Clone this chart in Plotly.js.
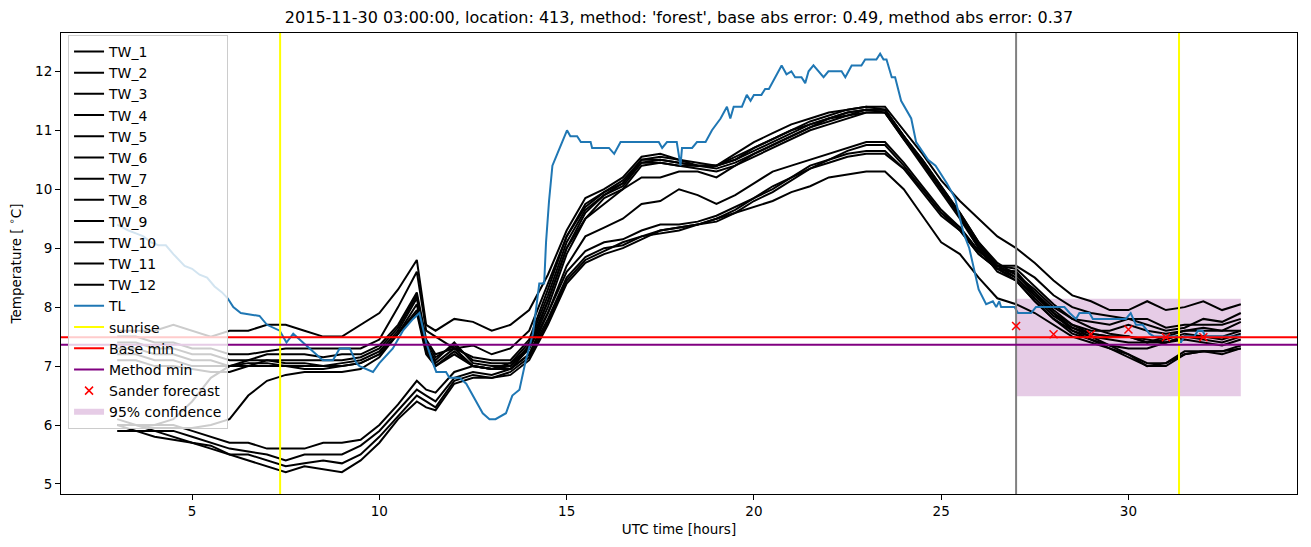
<!DOCTYPE html>
<html>
<head>
<meta charset="utf-8">
<script src="https://cdn.plot.ly/plotly-3.0.1.min.js"></script>
<style>html,body{margin:0;padding:0;background:#fff;}#chart{width:1311px;height:547px;}</style>
</head>
<body>
<div id="chart"></div>
<script>
// ---------- data ----------
const hours = [3.0,3.5,4.0,4.5,5.0,5.5,6.0,6.5,7.0,7.5,8.0,8.5,9.0,9.5,10.0,10.5,11.0,11.25,11.5,12.0,12.5,
  13.0,13.5,14.0,14.5,15.0,15.5,16.0,16.5,17.0,17.5,18.0,18.5,19.0,19.5,20.0,20.5,21.0,21.5,22.0,22.5,
  23.0,23.5,24.0,24.5,25.0,25.5,26.0,26.5,27.0,27.5,28.0,28.5,29.0,29.5,30.0,30.5,31.0,31.5,32.0,32.5,33.0];

const TW_1 = [7.6,7.6,7.6,7.7,7.6,7.5,7.6,7.6,7.7,7.7, 7.6,7.5,7.5,7.7,7.9,8.3,8.8,7.7,7.6,7.8,7.75,
  7.6,7.7,7.95,8.55,9.3,9.85,10.0,10.2,10.55,10.6, 10.5,10.45,10.4,10.6,10.8,10.95,11.1,11.2,11.3,11.35,
  11.4,11.4,11.0,10.6,10.15,9.8,9.5,9.2,9.0,8.75, 8.45,8.2,8.1,7.95,7.95,8.1,7.95,8.0,8.1,7.95,8.05];
const TW_2 = [7.5,7.5,7.4,7.4,7.3,7.3,7.2,7.2,7.25,7.3, 7.3,7.3,7.3,7.3,7.45,8.0,8.6,7.6,7.5,7.3,7.35,
  7.2,7.3,7.6,8.4,9.2,9.7,9.95,10.1,10.5,10.55, 10.5,10.4,10.4,10.55,10.7,10.85,11.0,11.15,11.25,11.35,
  11.4,11.35,10.9,10.45,10.0,9.55,9.05,8.7,8.55,8.3, 8.0,7.8,7.75,7.7,7.8,7.7,7.6,7.65,7.8,7.75,7.9];
const TW_3 = [7.4,7.4,7.3,7.3,7.2,7.2,7.1,7.1,7.2,7.2, 7.2,7.15,7.2,7.2,7.35,7.7,8.25,7.45,7.2,7.3,7.15,
  7.1,7.1,7.45,8.3,9.2,9.75,9.95,10.15,10.5,10.5, 10.45,10.4,10.4,10.5,10.7,10.85,11.0,11.1,11.2,11.3,
  11.35,11.35,10.9,10.5,10.05,9.6,9.1,8.7,8.5,8.2, 7.9,7.7,7.6,7.6,7.7,7.6,7.55,7.6,7.65,7.6,7.75];
const TW_4 = [7.3,7.3,7.2,7.2,7.1,7.1,7.0,7.1,7.1,7.1, 7.1,7.1,7.1,7.15,7.3,7.65,8.2,7.4,7.15,7.35,7.1,
  7.05,7.05,7.4,8.2,9.1,9.65,9.9,10.1,10.45,10.5, 10.45,10.4,10.4,10.5,10.65,10.8,10.95,11.1,11.2,11.25,
  11.35,11.3,10.9,10.45,10.0,9.55,9.05,8.65,8.5,8.15, 7.85,7.65,7.55,7.5,7.5,7.4,7.5,7.6,7.6,7.6,7.6];
const TW_5 = [7.2,7.2,7.1,7.1,7.0,7.0,7.0,7.0,7.1,7.05, 7.05,7.0,7.05,7.1,7.25,7.6,8.15,7.35,7.1,7.4,7.05,
  7.0,7.0,7.35,8.1,9.0,9.6,9.9,10.05,10.45,10.45, 10.4,10.4,10.35,10.45,10.6,10.75,10.9,11.05,11.15,11.25,
  11.3,11.3,10.85,10.45,10.0,9.55,9.0,8.65,8.45,8.1, 7.8,7.6,7.5,7.45,7.4,7.4,7.45,7.55,7.5,7.5,7.6];
const TW_6 = [7.1,7.1,7.0,7.0,6.95,6.9,6.9,7.0,7.0,7.0, 7.0,7.0,7.0,7.05,7.2,7.55,8.05,7.3,7.05,7.3,7.0,
  6.95,6.95,7.3,8.0,8.9,9.5,9.85,10.0,10.4,10.45, 10.4,10.35,10.3,10.4,10.55,10.7,10.85,11.0,11.1,11.2,
  11.3,11.3,10.85,10.4,9.95,9.5,9.0,8.6,8.45,8.1, 7.8,7.55,7.45,7.35,7.3,7.3,7.4,7.5,7.5,7.45,7.55];
const TW_7 = [6.0,6.0,6.0,6.1,6.4,6.8,7.0,7.05,7.05,7.0, 6.95,6.95,7.0,7.05,7.2,7.55,7.95,7.25,7.0,7.25,7.0,
  6.95,7.0,7.3,8.1,9.0,9.5,9.75,10.0,10.2,10.2, 10.3,10.3,10.2,10.4,10.6,10.75,10.9,11.05,11.2,11.3,
  11.35,11.35,10.9,10.5,10.05,9.6,9.1,8.75,8.55,8.25, 7.95,7.7,7.55,7.5,7.5,7.45,7.4,7.5,7.45,7.4,7.5];
const TW_8 = [6.0,6.0,5.95,5.95,5.95,6.0,6.1,6.5,6.75,6.85, 6.9,6.9,6.9,6.95,7.15,7.55,7.9,7.2,7.0,7.2,7.0,
  6.95,6.95,7.2,7.9,8.7,9.2,9.35,9.5,9.75,9.8, 10.0,9.9,9.75,9.9,10.1,10.3,10.4,10.5,10.6,10.7,
  10.8,10.8,10.45,10.05,9.65,9.35,8.95,8.7,8.7,8.5, 8.2,8.0,7.9,7.85,7.8,7.8,7.65,7.7,7.7,7.7,7.8];
const TW_9 = [6.1,6.0,6.0,6.0,5.9,5.8,5.7,5.7,5.6,5.6, 5.6,5.7,5.7,5.75,6.0,6.35,6.75,6.6,6.55,6.9,7.0,
  6.95,7.05,7.3,7.9,8.6,8.95,9.1,9.15,9.3,9.4, 9.4,9.45,9.55,9.7,9.85,10.05,10.2,10.35,10.5,10.65,
  10.75,10.75,10.4,10.0,9.6,9.35,8.95,8.7,8.65,8.35, 8.05,7.8,7.65,7.55,7.5,7.4,7.4,7.45,7.4,7.35,7.45];
const TW_10 = [6.0,6.0,5.9,5.9,5.8,5.7,5.6,5.55,5.5,5.4, 5.5,5.5,5.5,5.65,5.9,6.25,6.6,6.5,6.4,6.8,6.9,
  6.85,6.95,7.2,7.8,8.5,8.85,9.0,9.05,9.2,9.25, 9.3,9.4,9.45,9.6,9.8,9.95,10.15,10.35,10.45,10.55,
  10.6,10.6,10.35,9.95,9.55,9.3,8.9,8.65,8.6,8.25, 7.9,7.65,7.5,7.35,7.2,7.05,7.05,7.25,7.25,7.25,7.35];
const TW_11 = [6.0,5.9,5.9,5.8,5.7,5.65,5.5,5.5,5.4,5.3, 5.35,5.4,5.35,5.5,5.8,6.15,6.5,6.4,6.3,6.75,6.85,
  6.8,6.9,7.15,7.75,8.45,8.8,8.95,9.1,9.2,9.3, 9.35,9.4,9.5,9.65,9.85,10.0,10.2,10.4,10.5,10.6,
  10.65,10.65,10.35,10.0,9.6,9.3,8.9,8.65,8.6,8.2, 7.9,7.6,7.45,7.3,7.15,7.0,7.0,7.2,7.25,7.2,7.3];
const TW_12 = [5.9,5.9,5.8,5.75,5.7,5.6,5.5,5.4,5.3,5.2, 5.3,5.25,5.2,5.4,5.7,6.1,6.4,6.3,6.25,6.7,6.8,
  6.8,6.85,7.1,7.7,8.4,8.75,8.9,9.0,9.15,9.3, 9.35,9.4,9.5,9.6,9.7,9.8,9.95,10.05,10.2,10.25,
  10.3,10.3,10.0,9.55,9.1,8.9,8.5,8.15,8.05,7.9, 7.7,7.5,7.4,7.3,7.2,7.0,7.05,7.2,7.25,7.25,7.3];

const tlHours = [3.0,3.3,3.5,3.7,3.9,4.1,4.3,4.5,4.8,5.0,5.2,5.4,5.6,5.8,5.95,6.1,6.3,6.8,7.0,7.34,
  7.52,7.7,7.96,8.14,8.49,8.76,8.94,9.21,9.39,9.47,9.83,10.0,10.36,10.63,10.9,11.07,11.25,11.43,11.52,11.78,
  11.87,12.14,12.32,12.67,12.76,12.94,13.1,13.38,13.55,13.74,13.91,14.1,14.27,14.4,14.45,14.53,14.62,14.75,14.88,15.01,
  15.1,15.28,15.38,15.64,15.68,16.13,16.27,16.44,17.46,17.55,17.68,17.94,18.04,18.08,18.35,18.48,18.71,18.88,19.11,19.28,
  19.37,19.46,19.68,19.81,19.91,20.0,20.2,20.3,20.4,20.57,20.74,20.87,21.0,21.1,21.27,21.37,21.46,21.59,21.72,21.86,
  21.99,22.34,22.44,22.61,22.87,22.97,23.27,23.37,23.46,23.54,23.68,23.77,23.93,24.2,24.33,24.65,24.85,25.15,25.37,25.5,
  25.6,25.75,25.9,26.0,26.2,26.38,26.47,26.55,26.6,26.96,27.05,27.4,27.53,28.29,28.43,28.6,28.69,28.96,29.05,29.93,
  30.06,30.2,30.38,30.56,30.69,31.31,31.4,31.49,31.76,31.85,31.98,32.06,33.0];
const TL = [9.4,9.3,9.25,9.2,9.1,9.05,9.05,8.9,8.7,8.65,8.55,8.5,8.35,8.25,8.15,8.0,7.9,7.85,7.7,7.6,
  7.4,7.55,7.4,7.3,7.1,7.1,7.3,7.3,7.05,7.0,6.9,7.05,7.3,7.6,7.8,7.9,7.4,7.05,6.9,6.9,
  6.8,6.8,6.7,6.3,6.2,6.1,6.1,6.2,6.5,6.6,7.1,7.55,8.4,8.4,9.1,9.8,10.4,10.6,10.8,11.0,
  10.9,10.9,10.8,10.8,10.7,10.7,10.6,10.8,10.8,10.7,10.8,10.8,10.4,10.7,10.7,10.8,10.8,11.0,11.2,11.4,
  11.2,11.4,11.4,11.6,11.5,11.6,11.6,11.7,11.7,11.9,12.1,11.95,12.0,11.9,11.9,11.8,12.0,12.1,12.0,11.9,
  12.0,12.0,11.9,12.1,12.1,12.2,12.2,12.3,12.2,12.2,11.9,11.9,11.5,11.2,10.8,10.5,10.4,10.1,9.85,9.5,
  9.25,9.0,8.6,8.3,8.05,8.1,8.0,8.1,8.0,8.0,7.9,7.9,8.0,8.0,7.9,7.8,7.9,7.9,7.8,7.8,
  7.9,7.7,7.7,7.55,7.5,7.5,7.4,7.5,7.5,7.6,7.6,7.5,7.5];

const sunriseHours = [7.35, 31.35];
const forecastStart = 27;
const baseMin = 7.49;
const methodMin = 7.36;
const sanderHours = [27, 28, 29, 30, 31, 32];
const sanderTemps = [7.68, 7.54, 7.54, 7.62, 7.49, 7.49];
const confStart = 27, confEnd = 33, confLow = 6.49, confHigh = 8.14;

const titleText = "2015-11-30 03:00:00, location: 413, method: 'forest', base abs error: 0.49, method abs error: 0.37";

// ---------- figure ----------
const xRange = [1.5, 34.5];
const yRange = [4.83, 12.65];
const twSeries = [TW_1,TW_2,TW_3,TW_4,TW_5,TW_6,TW_7,TW_8,TW_9,TW_10,TW_11,TW_12];

const traces = [];
traces.push({
  x: [confStart, confEnd, confEnd, confStart, confStart],
  y: [confLow, confLow, confHigh, confHigh, confLow],
  mode: 'none', fill: 'toself', fillcolor: 'rgba(128,0,128,0.2)',
  name: '95% confidence', legendrank: 1018, hoverinfo: 'skip'
});
twSeries.forEach((s, i) => {
  traces.push({x: hours, y: s, mode: 'lines', name: 'TW_' + (i + 1),
    line: {color: 'black', width: 2}, legendrank: 1001 + i});
});
traces.push({x: tlHours, y: TL, mode: 'lines', name: 'TL',
  line: {color: '#1f77b4', width: 2}, legendrank: 1013});
traces.push({x: [forecastStart, forecastStart], y: yRange, mode: 'lines', showlegend: false,
  line: {color: 'grey', width: 2}});
traces.push({x: [sunriseHours[0], sunriseHours[0], null, sunriseHours[1], sunriseHours[1]],
  y: [yRange[0], yRange[1], null, yRange[0], yRange[1]], mode: 'lines', name: 'sunrise',
  line: {color: 'yellow', width: 2}, legendrank: 1014});
traces.push({x: xRange, y: [baseMin, baseMin], mode: 'lines', name: 'Base min',
  line: {color: 'red', width: 2}, legendrank: 1015});
traces.push({x: xRange, y: [methodMin, methodMin], mode: 'lines', name: 'Method min',
  line: {color: 'purple', width: 2}, legendrank: 1016});
traces.push({x: sanderHours, y: sanderTemps, mode: 'markers', name: 'Sander forecast',
  marker: {symbol: 'x-thin', size: 8, color: 'red', line: {color: 'red', width: 1.5}}, legendrank: 1017});

const axisCommon = {
  showline: true, mirror: true, linecolor: 'black', linewidth: 1,
  ticks: 'outside', ticklen: 5, tickwidth: 1, tickcolor: 'black',
  showgrid: false, zeroline: false,
  tickfont: {family: 'DejaVu Sans', size: 13.5, color: 'black'}
};

const layout = {
  width: 1311, height: 547,
  margin: {l: 61, r: 14, t: 33, b: 53},
  paper_bgcolor: 'white', plot_bgcolor: 'white',
  font: {family: 'DejaVu Sans', color: 'black'},
  title: {text: titleText, font: {family: 'DejaVu Sans', size: 16, color: 'black'},
    x: 0.5, xref: 'paper', xanchor: 'center', y: 0.969, yref: 'container', yanchor: 'middle'},
  xaxis: Object.assign({}, axisCommon, {range: xRange, tickvals: [5,10,15,20,25,30],
    title: {text: 'UTC time [hours]', font: {family: 'DejaVu Sans', size: 13.5}, standoff: 6}}),
  yaxis: Object.assign({}, axisCommon, {range: yRange, tickvals: [5,6,7,8,9,10,11,12],
    title: {text: 'Temperature [ <sup>∘</sup>C]', font: {family: 'DejaVu Sans', size: 13.5}, standoff: 10}}),
  showlegend: true,
  legend: {x: 0.0057, y: 0.996, xanchor: 'left', yanchor: 'top',
    bgcolor: 'rgba(255,255,255,0.8)', bordercolor: '#cccccc', borderwidth: 1,
    font: {family: 'DejaVu Sans', size: 14, color: 'black'}, itemwidth: 30,
    traceorder: 'normal'},
  hovermode: false
};

Plotly.newPlot('chart', traces, layout, {staticPlot: true, displayModeBar: false});
</script>
</body>
</html>
